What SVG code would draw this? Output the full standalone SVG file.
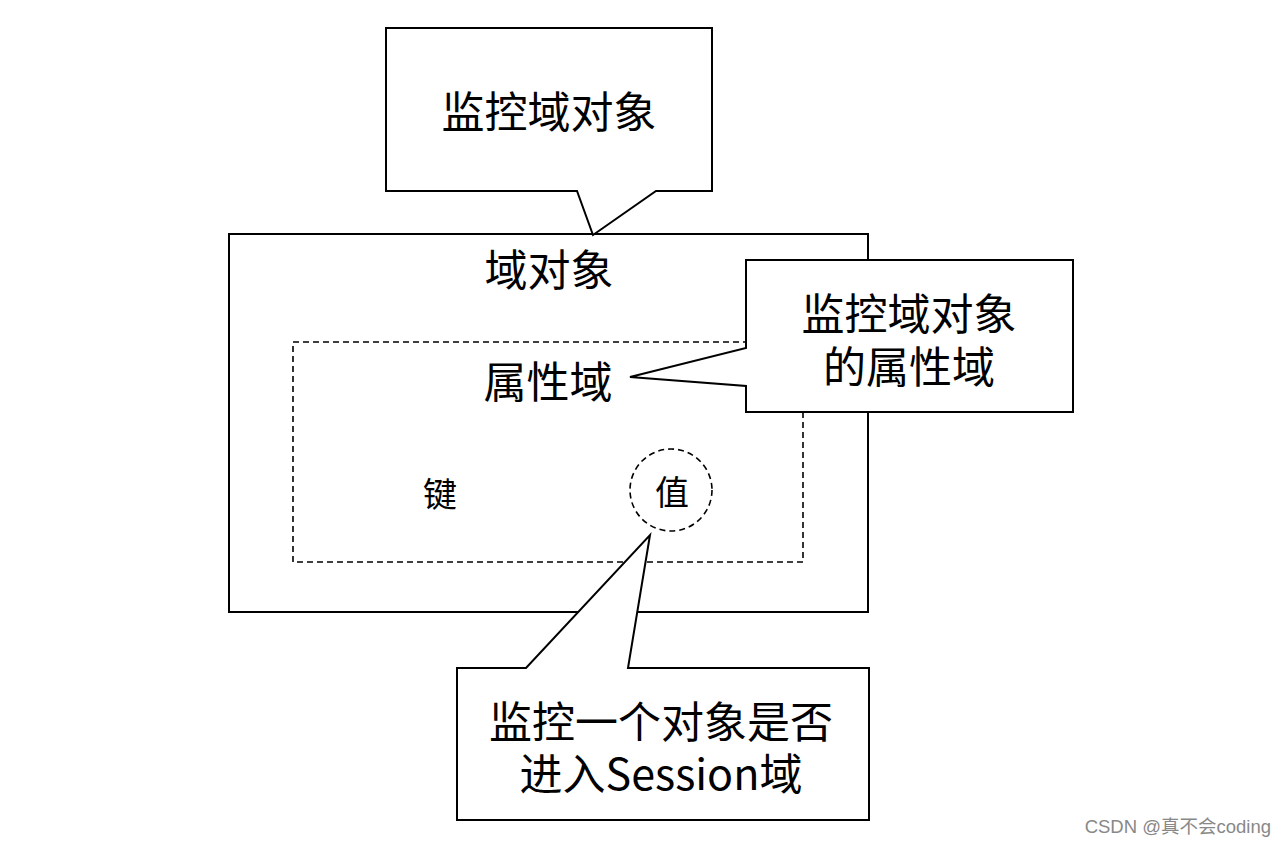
<svg xmlns="http://www.w3.org/2000/svg" width="1286" height="845" viewBox="0 0 1286 845">
<style>
.box{fill:#fff;stroke:#000;stroke-width:2}
.dash{fill:none;stroke:#000;stroke-width:1.6;stroke-dasharray:6 4}
.t{font-family:"Noto Sans CJK SC","Noto Sans",sans-serif;fill:#000;text-anchor:middle;dominant-baseline:central}
.big{font-size:43px}
.mid{font-size:34px}
.wm{font-family:"Liberation Sans","Noto Sans CJK SC",sans-serif;font-size:18.5px;fill:#888;text-anchor:end;dominant-baseline:central}
</style>
<rect width="1286" height="845" fill="#fff"/>
<g id="domain-object">
<rect class="box" x="229" y="234" width="639" height="378"/>
<text class="t big" x="549" y="267">域对象</text>
</g>
<g id="attribute-domain">
<rect class="dash" x="293" y="342" width="510" height="220"/>
<text class="t big" x="548" y="379">属性域</text>
</g>
<g id="key">
<text class="t mid" x="440" y="492">键</text>
</g>
<g id="value">
<circle class="dash" cx="671" cy="490" r="41" stroke-dasharray="8 5"/>
<text class="t mid" x="672" y="490">值</text>
</g>
<g id="connectors"/>
<g id="callout-top">
<path class="box" d="M386,28 H712 V191 H656 L593,235 L577,191 H386 Z"/>
<text class="t big" x="549" y="109">监控域对象</text>
</g>
<g id="callout-right">
<path class="box" d="M746,260 H1073 V412 H746 V386 L630,377 L746,348 Z"/>
<text class="t big"><tspan x="909" y="311">监控域对象</tspan><tspan x="909" y="364">的属性域</tspan></text>
</g>
<g id="callout-bottom">
<path class="box" d="M457,668 H526 L650,535 L628,668 H869 V820 H457 Z"/>
<text class="t big"><tspan x="661" y="719">监控一个对象是否</tspan><tspan x="661" y="771">进入Session域</tspan></text>
</g>
<text class="wm" x="1271" y="826">CSDN @真不会coding</text>
</svg>
